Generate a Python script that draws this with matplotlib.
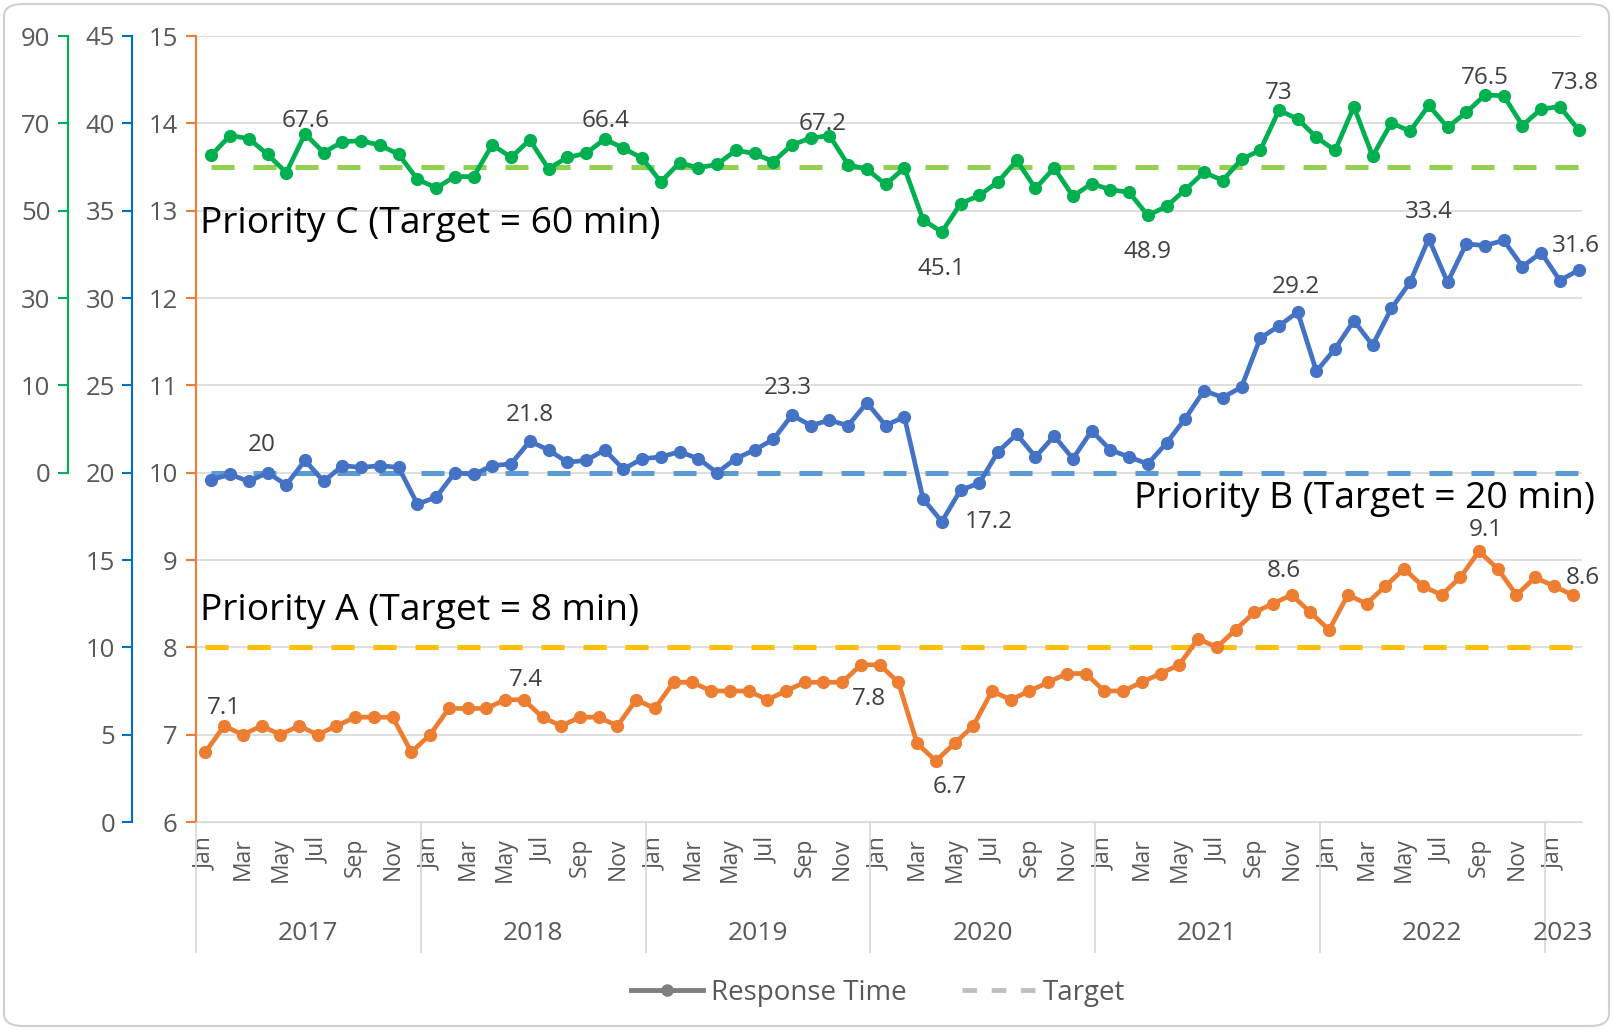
import matplotlib
matplotlib.use("Agg")
import matplotlib.pyplot as plt
from matplotlib.lines import Line2D
from matplotlib.patches import FancyBboxPatch
import matplotlib.transforms as mtransforms

plt.rcParams['font.family'] = ['Open Sans', 'DejaVu Sans']

# ---- data (monthly, Jan 2017 .. Feb 2023) ----
months = ['Jan', 'Feb', 'Mar', 'Apr', 'May', 'Jun', 'Jul', 'Aug', 'Sep', 'Oct', 'Nov', 'Dec']
years = ['2017', '2018', '2019', '2020', '2021', '2022', '2023']
months_per_year = [12, 12, 12, 12, 12, 12, 2]

# Priority C, minutes (target 60)
prio_c = [62.7, 67.2, 66.5, 62.9, 58.7, 67.6, 63.3, 65.8, 66.0, 65.0, 62.9, 57.2,
          55.2, 57.8, 57.8, 65.1, 62.2, 66.2, 59.6, 62.2, 63.1, 66.4, 64.3, 62.0,
          56.6, 61.0, 59.8, 60.6, 63.8, 63.1, 61.2, 65.1, 66.6, 67.2, 60.5, 59.5,
          56.0, 59.8, 47.9, 45.1, 51.6, 53.5, 56.6, 61.5, 55.1, 59.8, 53.3, 56.2,
          54.8, 54.2, 48.9, 51.0, 54.8, 58.8, 56.9, 61.8, 63.8, 73.0, 71.0, 66.8,
          63.8, 73.8, 62.5, 70.1, 68.2, 74.1, 69.1, 72.5, 76.5, 76.3, 69.5, 73.3,
          73.8, 68.5]
# Priority B, minutes (target 20)
prio_b = [19.6, 19.9, 19.5, 20.0, 19.3, 20.7, 19.5, 20.4, 20.3, 20.4, 20.3, 18.2,
          18.6, 20.0, 19.9, 20.4, 20.5, 21.8, 21.3, 20.6, 20.7, 21.3, 20.2, 20.8,
          20.9, 21.2, 20.8, 20.0, 20.8, 21.3, 21.9, 23.3, 22.7, 23.0, 22.7, 24.0,
          22.7, 23.2, 18.5, 17.2, 19.0, 19.4, 21.2, 22.2, 20.9, 22.1, 20.8, 22.4,
          21.3, 20.9, 20.5, 21.7, 23.1, 24.7, 24.3, 24.9, 27.7, 28.4, 29.2, 25.8,
          27.1, 28.7, 27.3, 29.4, 30.9, 33.4, 30.9, 33.1, 33.0, 33.3, 31.8, 32.6,
          31.0, 31.6]
# Priority A, minutes (target 8)
prio_a = [6.8, 7.1, 7.0, 7.1, 7.0, 7.1, 7.0, 7.1, 7.2, 7.2, 7.2, 6.8,
          7.0, 7.3, 7.3, 7.3, 7.4, 7.4, 7.2, 7.1, 7.2, 7.2, 7.1, 7.4,
          7.3, 7.6, 7.6, 7.5, 7.5, 7.5, 7.4, 7.5, 7.6, 7.6, 7.6, 7.8,
          7.8, 7.6, 6.9, 6.7, 6.9, 7.1, 7.5, 7.4, 7.5, 7.6, 7.7, 7.7,
          7.5, 7.5, 7.6, 7.7, 7.8, 8.1, 8.0, 8.2, 8.4, 8.5, 8.6, 8.4,
          8.2, 8.6, 8.5, 8.7, 8.9, 8.7, 8.6, 8.8, 9.1, 8.9, 8.6, 8.8,
          8.7, 8.6]
target_c, target_b, target_a = 60, 20, 8

# which points carry a data label
labels_c = [5, 21, 33, 39, 50, 57, 68, 72]
labels_b = [3, 17, 31, 39, 58, 65, 73]
labels_a = [1, 17, 35, 39, 58, 68, 73]

# axis ticks
ticks_a = list(range(6, 16))
ticks_b = list(range(0, 50, 5))
ticks_c = [-10, 10, 30, 50, 70, 90]
ticklabels_c = ['0', '10', '30', '50', '70', '90']

# ---- styling ----
GREEN, GREEN_T, GREEN_AX = '#00B050', '#92D050', '#00B050'
BLUE, BLUE_T, BLUE_AX = '#4472C4', '#5B9BD5', '#0070C0'
ORANGE, ORANGE_T, ORANGE_AX = '#ED7D31', '#FFC000', '#ED7D31'
GRAY = '#595959'
PX = 0.72  # points per pixel at dpi 100

W, H = 1613, 1030
fig = plt.figure(figsize=(W / 100, H / 100), dpi=100)

left, right, top, bottom = 196, 1582, 36, 822
shift = 6
ax_a = fig.add_axes([left / W, 1 - bottom / H, (right - left) / W, (bottom - top) / H])
ax_b = fig.add_axes([(left + shift) / W, 1 - bottom / H, (right - left) / W, (bottom - top) / H])
ax_c = fig.add_axes([(left + shift) / W, 1 - bottom / H, (right - left) / W, (bottom - top) / H])
for a in (ax_b, ax_c):
    a.set_facecolor('none')

n = len(prio_a)
x = list(range(n))

def draw(ax, vals, target, col, tcol, lab_idx, offsets):
    ax.plot([0, n - 1], [target, target], color=tcol, lw=3.6, dashes=[4.6, 3.8], zorder=2)
    ax.plot(x, vals, color=col, lw=3.4, marker='o', ms=8.5, zorder=3, clip_on=False)
    for i in lab_idx:
        dx, dy = offsets.get(i, (0, -18))
        ax.annotate('%g' % vals[i], (i, vals[i]), xytext=(dx * PX, -dy * PX),
                    textcoords='offset points', ha='center', va='center',
                    fontsize=17.5, color='#404040', zorder=5)

off_c = {5: (1, -13), 21: (1, -18), 33: (-7, -12), 39: (0, 37), 50: (0, 37),
         57: (0, -17), 68: (0, -17), 72: (15, -24)}
off_b = {3: (-6, -28), 17: (0, -26), 31: (-4, -27), 39: (47, 0), 58: (-2, -25),
         65: (0, -27), 73: (-3, -24)}
off_a = {1: (0, -18), 17: (2, -20), 35: (8, 34), 39: (14, 26), 58: (-8, -24),
         68: (7, -21), 73: (10, -17)}

draw(ax_a, prio_a, target_a, ORANGE, ORANGE_T, labels_a, off_a)
draw(ax_b, prio_b, target_b, BLUE, BLUE_T, labels_b, off_b)
draw(ax_c, prio_c, target_c, GREEN, GREEN_T, labels_c, off_c)

for a in (ax_a, ax_b, ax_c):
    a.set_xlim(-0.5, n - 0.5)
    for s in ('top', 'right', 'bottom'):
        a.spines[s].set_visible(False)
ax_a.set_ylim(6, 15)
ax_b.set_ylim(0, 45)
ax_c.set_ylim(-90, 90)

TICKFS = 18.5

# orange axis + gridlines
ax_a.set_yticks(ticks_a)
ax_a.yaxis.grid(True, color='#D9D9D9', lw=1.2, zorder=0)
ax_a.set_axisbelow(True)
ax_a.spines['left'].set_color(ORANGE_AX)
ax_a.spines['left'].set_linewidth(1.5)
ax_a.tick_params(axis='y', colors=ORANGE_AX, labelcolor=GRAY, length=7.2, width=1.5,
                 pad=6, labelsize=TICKFS)

# blue axis
ax_b.set_yticks(ticks_b)
ax_b.spines['left'].set_position(('outward', 70 * PX))
ax_b.spines['left'].set_color(BLUE_AX)
ax_b.spines['left'].set_linewidth(1.5)
ax_b.tick_params(axis='y', colors=BLUE_AX, labelcolor=GRAY, length=7.2, width=1.5,
                 pad=5, labelsize=TICKFS)
ax_b.set_xticks([])

# green axis
ax_c.set_yticks(ticks_c)
ax_c.set_yticklabels(ticklabels_c)
ax_c.spines['left'].set_position(('outward', 134 * PX))
ax_c.spines['left'].set_bounds(-10, 90)
ax_c.spines['left'].set_color(GREEN_AX)
ax_c.spines['left'].set_linewidth(1.5)
ax_c.tick_params(axis='y', colors=GREEN_AX, labelcolor=GRAY, length=7.2, width=1.5,
                 pad=5.5, labelsize=TICKFS)
ax_c.set_xticks([])

# category axis: months + year groups
ax_a.spines['bottom'].set_visible(True)
ax_a.spines['bottom'].set_color('#D9D9D9')
ax_a.set_xticks(x[::2])
ax_a.set_xticklabels([months[i % 12] for i in x[::2]], rotation=90)
ax_a.tick_params(axis='x', length=0, pad=11, labelsize=16.5, labelcolor=GRAY)

trans = mtransforms.blended_transform_factory(ax_a.transData, ax_a.transAxes)
start = -0.5
for yr, cnt in zip(years, months_per_year):
    ax_a.plot([start, start], [0, -130 / (bottom - top)], color='#D9D9D9', lw=1.3,
              transform=trans, clip_on=False)
    ax_a.text(start + cnt / 2, -111 / (bottom - top), yr, transform=trans,
              ha='center', va='center', fontsize=19, color=GRAY)
    start += cnt

# series titles
TITLEFS = 26.8
fig.text(199.6 / W, 1 - 224 / H, 'Priority C (Target = 60 min)', fontsize=TITLEFS,
         va='center', ha='left', color='black')
fig.text(1594.5 / W, 1 - 499 / H, 'Priority B (Target = 20 min)', fontsize=TITLEFS,
         va='center', ha='right', color='black')
fig.text(199.6 / W, 1 - 611 / H, 'Priority A (Target = 8 min)', fontsize=TITLEFS,
         va='center', ha='left', color='black')

# legend
handles = [Line2D([], [], color='#7F7F7F', lw=3.5, marker='o', ms=8),
           Line2D([], [], color='#BFBFBF', lw=3.5, dashes=[3, 3])]
fig.legend(handles, ['Response Time', 'Target'], loc='center',
           bbox_to_anchor=(878 / W, 1 - 993 / H), ncol=2, frameon=False,
           fontsize=20, labelcolor=GRAY, handlelength=2.6, columnspacing=2.0,
           handletextpad=0.3)

# outer chart border
fig.patches.append(FancyBboxPatch((4 / W, 4 / H), 1 - 8 / W, 1 - 8 / H,
                                  boxstyle='round,pad=0,rounding_size=0.012',
                                  transform=fig.transFigure, fc='none',
                                  ec='#D0D0D0', lw=1.5))

fig.savefig('out.png', dpi=100)
